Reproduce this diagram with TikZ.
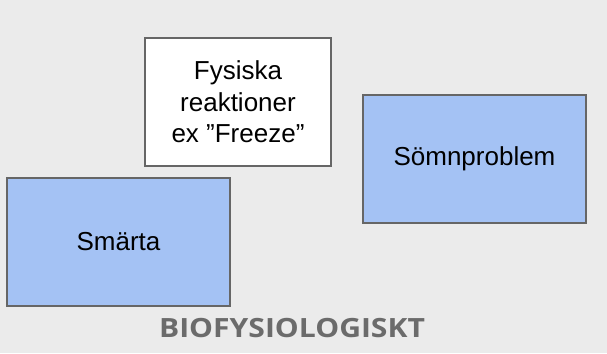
\documentclass[tikz,border=0pt]{standalone}
\usepackage{fontspec}
\setmainfont{Liberation Sans}
\newfontfamily\titlefont{Open Sans}
\definecolor{bg}{HTML}{EBEBEB}
\definecolor{boxblue}{HTML}{A4C2F4}
\definecolor{edge}{HTML}{666666}
\definecolor{titlegray}{HTML}{6B6B6B}
\begin{document}
\begin{tikzpicture}[x=1pt,y=1pt,
  boxstyle/.style={draw=edge,line width=2pt,minimum width=223pt,minimum height=128pt,
    inner sep=0pt,align=center,font=\fontsize{26}{31.5}\selectfont,text=black},
  bluebox/.style={boxstyle,fill=boxblue},
  whitebox/.style={boxstyle,fill=white,minimum width=186pt}]
\fill[bg] (0,0) rectangle (607,353);
\useasboundingbox (0,0) rectangle (607,353);
\node[whitebox] (fys) at (238,251) {Fysiska\\reaktioner\\ex ”Freeze”};
\node[bluebox] (somn) at (474.5,194) {Sömnproblem};
\node[bluebox] (smarta) at (118.5,111) {Smärta};
\node[anchor=base,inner sep=0pt,text=titlegray,font=\titlefont\bfseries\fontsize{26.5}{30}\selectfont] (title) at (292,16) {\scalebox{1.135}[1]{BIOFYSIOLOGISKT}};
\end{tikzpicture}
\end{document}
